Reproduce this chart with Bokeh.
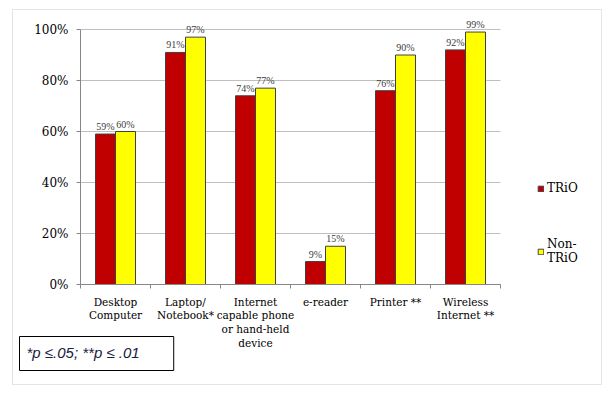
from bokeh.plotting import figure
from bokeh.models import (Range1d, FixedTicker, NumeralTickFormatter, ColumnDataSource,
                          LabelSet, Legend, LegendItem, Label, BoxAnnotation)
from bokeh.embed import file_html
from bokeh.resources import INLINE

categories = ["Desktop\nComputer", "Laptop/\nNotebook*", "Internet\ncapable phone\nor hand-held\ndevice",
              "e-reader", "Printer **", "Wireless\nInternet **"]
trio = [0.59, 0.91, 0.74, 0.09, 0.76, 0.92]
non_trio = [0.60, 0.97, 0.77, 0.15, 0.90, 0.99]
series_names = ["TRiO", "Non-\nTRiO"]
y_ticks = [0, 0.2, 0.4, 0.6, 0.8, 1.0]
footnote = "*p \u2264.05; **p \u2264 .01"

SERIF = "DejaVu Serif"
SANS = "Liberation Sans"

n = len(categories)
centers = [i + 0.5 for i in range(n)]
off = 0.143
bw = 0.2857

W, H = 605, 392
PX_X, PX_Y = 70.0, 255.0          # pixels per data unit
X0, Y0 = 80, 284                   # pixel position of data origin within canvas

src_a = ColumnDataSource(dict(x=[c - off for c in centers], top=trio,
                              lab=["%d%%" % round(v * 100) for v in trio]))
src_b = ColumnDataSource(dict(x=[c + off for c in centers], top=non_trio,
                              lab=["%d%%" % round(v * 100) for v in non_trio]))

p = figure(width=W, height=H,
           x_range=Range1d(-X0 / PX_X, (W - X0) / PX_X),
           y_range=Range1d(-(H - Y0) / PX_Y, Y0 / PX_Y),
           output_backend="svg", toolbar_location=None,
           min_border=0, min_border_left=0, min_border_right=0, min_border_top=0, min_border_bottom=0)
p.outline_line_color = None
p.xgrid.visible = False
p.ygrid.visible = False

# horizontal gridlines
p.segment(x0=[0] * len(y_ticks), x1=[n] * len(y_ticks), y0=y_ticks, y1=y_ticks,
          line_color="#bfbfbf", line_width=1)

ra = p.vbar(x="x", top="top", width=bw, source=src_a, fill_color="#C00000", line_color="#404040", line_width=1)
rb = p.vbar(x="x", top="top", width=bw, source=src_b, fill_color="#FFFF00", line_color="#404040", line_width=1)

for s in (src_a, src_b):
    p.add_layout(LabelSet(x="x", y="top", text="lab", source=s, text_align="center",
                          text_baseline="bottom", y_offset=2, text_font=SANS,
                          text_font_size="10px", text_color="#404040"))

# x axis
xa = p.xaxis[0]
xa.fixed_location = 0
xa.bounds = (0, n)
xa.ticker = FixedTicker(ticks=centers, minor_ticks=list(range(n + 1)))
xa.major_label_overrides = {c: lab for c, lab in zip(centers, categories)}
xa.major_tick_line_color = None
xa.major_tick_out = 0
xa.minor_tick_out = 4
xa.minor_tick_in = 0
xa.minor_tick_line_color = "#868686"
xa.axis_line_color = "#868686"
xa.major_label_standoff = 7
xa.major_label_text_font = SERIF
xa.major_label_text_font_size = "10.5px"
xa.major_label_text_line_height = 1.15
xa.major_label_text_color = "black"

# y axis
ya = p.yaxis[0]
ya.fixed_location = 0
ya.bounds = (0, 1)
ya.ticker = FixedTicker(ticks=y_ticks)
ya.formatter = NumeralTickFormatter(format="0%")
ya.major_tick_out = 4
ya.major_tick_in = 0
ya.minor_tick_line_color = None
ya.axis_line_color = "#868686"
ya.major_tick_line_color = "#868686"
ya.major_label_standoff = 8
ya.major_label_text_font = SERIF
ya.major_label_text_font_size = "12px"
ya.major_label_text_color = "black"

legend = Legend(items=[LegendItem(label=series_names[0], renderers=[ra]),
                       LegendItem(label=series_names[1], renderers=[rb])],
                location=(537, H - 265), orientation="vertical")
legend.glyph_width = 7
legend.glyph_height = 7
legend.label_standoff = 3
legend.spacing = 42
legend.padding = 0
legend.margin = 0
legend.border_line_color = None
legend.background_fill_alpha = 0
legend.label_text_font = SERIF
legend.label_text_font_size = "12px"
legend.label_text_line_height = 1.0
legend.label_text_color = "black"
p.add_layout(legend)

p.add_layout(Label(x=19, y=H - 370, x_units="screen", y_units="screen", text=footnote,
                   text_font=SANS, text_font_style="italic", text_font_size="15px",
                   text_color="#1a2040", border_line_color="black", border_line_width=1,
                   padding=(7, 34, 7, 10)))

p.add_layout(BoxAnnotation(left=12, right=601, bottom=H - 384, top=H - 9, left_units="screen",
                           right_units="screen", top_units="screen", bottom_units="screen",
                           fill_alpha=0, line_color="#a6a6a6", line_width=1))

open("out.html", "w").write(file_html(p, INLINE))
